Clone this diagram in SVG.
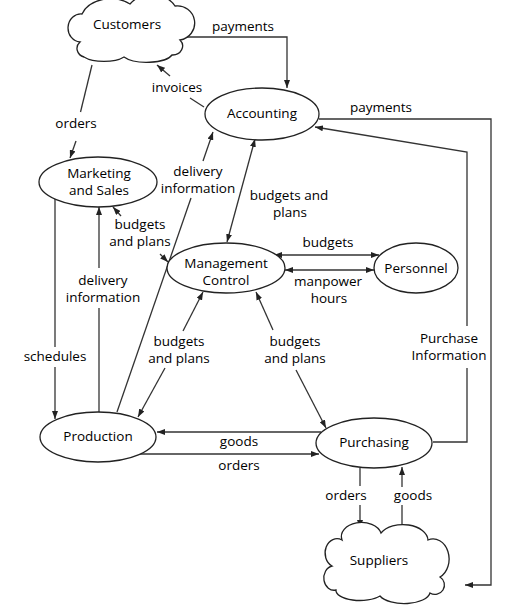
<svg xmlns="http://www.w3.org/2000/svg" width="520" height="611" viewBox="0 0 520 611">
<defs>
<marker id="ah" viewBox="0 0 8 6" refX="8" refY="3" markerWidth="8" markerHeight="6" markerUnits="userSpaceOnUse" orient="auto-start-reverse">
<path d="M0,0 L8,3 L0,6 z" fill="#222"/>
</marker>
<style>
.n{fill:#fff;stroke:#222;stroke-width:1.3}
.c{fill:none;stroke:#333;stroke-width:1.3}
text{font-family:"Open Sans","Noto Sans","DejaVu Sans",sans-serif;font-size:13.5px;fill:#000;text-anchor:middle}
</style>
</defs>
<rect width="520" height="611" fill="#fff"/>
<g id="connectors">
<polyline class="c" points="187,37 287,37 287,88" marker-end="url(#ah)"/>
<line class="c" x1="204" y1="107" x2="190" y2="98"/>
<line class="c" x1="170" y1="76" x2="157" y2="65" marker-end="url(#ah)"/>
<line class="c" x1="92" y1="65" x2="80.5" y2="112"/>
<line class="c" x1="76" y1="141" x2="70" y2="158" marker-end="url(#ah)"/>
<polyline class="c" points="319,119 491,119 491,585 465,585" marker-end="url(#ah)"/>
<polyline class="c" points="433,442 467,442 467,368"/>
<polyline class="c" points="467,326 467,152 315,127" marker-end="url(#ah)"/>
<line class="c" x1="255" y1="139" x2="227" y2="242" marker-start="url(#ah)" marker-end="url(#ah)"/>
<line class="c" x1="203" y1="161" x2="213" y2="132" marker-end="url(#ah)"/>
<line class="c" x1="191" y1="198" x2="117" y2="412"/>
<line class="c" x1="121" y1="216" x2="113" y2="207" marker-end="url(#ah)"/>
<line class="c" x1="160" y1="254" x2="168" y2="262" marker-end="url(#ah)"/>
<line class="c" x1="99" y1="412" x2="99" y2="308"/>
<line class="c" x1="99" y1="268" x2="99" y2="207" marker-end="url(#ah)"/>
<line class="c" x1="55" y1="199" x2="55" y2="347"/>
<line class="c" x1="55" y1="367" x2="55" y2="419" marker-end="url(#ah)"/>
<line class="c" x1="183" y1="331" x2="203" y2="292" marker-end="url(#ah)"/>
<line class="c" x1="165" y1="368" x2="138" y2="417" marker-end="url(#ah)"/>
<line class="c" x1="273" y1="330" x2="256" y2="292" marker-end="url(#ah)"/>
<line class="c" x1="296" y1="370" x2="326" y2="428" marker-end="url(#ah)"/>
<line class="c" x1="274" y1="255" x2="379" y2="255" marker-start="url(#ah)" marker-end="url(#ah)"/>
<line class="c" x1="285" y1="270" x2="374" y2="270" marker-start="url(#ah)" marker-end="url(#ah)"/>
<line class="c" x1="321" y1="432" x2="157" y2="432" marker-end="url(#ah)"/>
<line class="c" x1="140" y1="454" x2="319" y2="454" marker-end="url(#ah)"/>
<line class="c" x1="360" y1="468" x2="360" y2="486"/>
<line class="c" x1="360" y1="505" x2="360" y2="528" marker-end="url(#ah)"/>
<line class="c" x1="402" y1="526" x2="402" y2="505"/>
<line class="c" x1="402" y1="487" x2="402" y2="467" marker-end="url(#ah)"/>
</g>
<g id="labels">
<text x="243" y="31">payments</text>
<text x="177" y="92">invoices</text>
<text x="76" y="128">orders</text>
<text x="381" y="112">payments</text>
<text x="198" y="176">delivery</text>
<text x="198" y="193">information</text>
<text x="289" y="200">budgets and</text>
<text x="290" y="217">plans</text>
<text x="140" y="229">budgets</text>
<text x="140" y="246">and plans</text>
<text x="328" y="247">budgets</text>
<text x="328" y="286">manpower</text>
<text x="329" y="303">hours</text>
<text x="103" y="285">delivery</text>
<text x="103" y="302">information</text>
<text x="449" y="343">Purchase</text>
<text x="449" y="360">Information</text>
<text x="55" y="361">schedules</text>
<text x="179" y="346">budgets</text>
<text x="179" y="363">and plans</text>
<text x="295" y="346">budgets</text>
<text x="295" y="363">and plans</text>
<text x="239" y="446">goods</text>
<text x="239" y="470">orders</text>
<text x="346" y="500">orders</text>
<text x="413" y="500">goods</text>
</g>
<g id="customers">
<path class="n" d="M80,42 A12,13 0 0 1 82,14 A30,22 0 0 1 130,4 A26,20 0 0 1 175,6 A17,17 0 0 1 180,40 A10,9 0 0 1 172,55 A26,10 0 0 1 124,57 A24,10 0 0 1 84,57 A10,9 0 0 1 80,42 Z"/>
<text x="127" y="29">Customers</text>
</g>
<g id="accounting">
<ellipse class="n" cx="262" cy="114" rx="57" ry="26"/>
<text x="262" y="118">Accounting</text>
</g>
<g id="marketing">
<ellipse class="n" cx="98" cy="182" rx="59" ry="25"/>
<text x="99" y="178">Marketing</text>
<text x="99" y="195">and Sales</text>
</g>
<g id="management">
<ellipse class="n" cx="226" cy="268" rx="59" ry="25"/>
<text x="226" y="268">Management</text>
<text x="226" y="285">Control</text>
</g>
<g id="personnel">
<ellipse class="n" cx="416" cy="268" rx="42" ry="25"/>
<text x="416" y="273">Personnel</text>
</g>
<g id="production">
<ellipse class="n" cx="98" cy="437" rx="58" ry="25"/>
<text x="98" y="441">Production</text>
</g>
<g id="purchasing">
<ellipse class="n" cx="374" cy="443" rx="58" ry="25"/>
<text x="374" y="447">Purchasing</text>
</g>
<g id="suppliers">
<path class="n" d="M342,540 A20,14 0 0 1 381,533 A25,16 0 0 1 428,540 A16,20 0 0 1 440,577 A9,9 0 0 1 430,593 A26,12 0 0 1 380,596 A24,10 0 0 1 336,590 A10,12 0 0 1 332,566 A10,12 0 0 1 342,540 Z"/>
<text x="379" y="565">Suppliers</text>
</g>
</svg>
